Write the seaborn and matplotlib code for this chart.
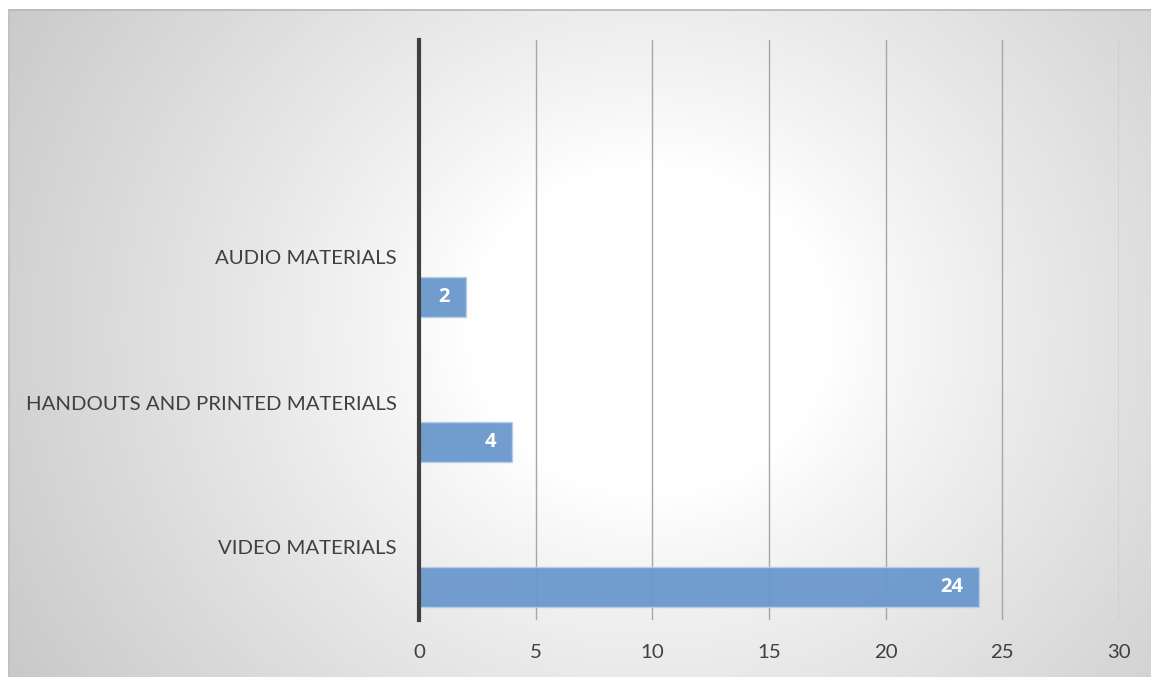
import numpy as np
import pandas as pd
import seaborn as sns
import matplotlib.pyplot as plt
from matplotlib.transforms import Affine2D, ScaledTranslation

# data
categories = ["AUDIO MATERIALS", "HANDOUTS AND PRINTED MATERIALS", "VIDEO MATERIALS"]
counts = [2, 4, 24]
x_ticks = [0, 5, 10, 15, 20, 25, 30]

df = pd.DataFrame({"category": categories, "count": counts})

sns.set_theme(style="white")
plt.rcParams["font.family"] = ["Lato", "DejaVu Sans"]

W, H = 1151, 677
fig = plt.figure(figsize=(W / 100, H / 100), dpi=100)
fig.patch.set_facecolor("white")

# radial gradient background (chart area)
bx0, by0 = 8, 9
bg = fig.add_axes([bx0 / W, 0, 1 - bx0 / W, 1 - by0 / H])
bw, bh = W - bx0, H - by0
yy, xx = np.mgrid[0:bh, 0:bw]
cx, cy = 650 - bx0, 330 - by0
r = np.hypot(xx - cx, (yy - cy) * 1.1)
t = np.clip((r - 180) / (800 - 180), 0, 1)
g = 1 - 0.23 * t ** 0.9
bg.imshow(np.dstack([g, g, g]), aspect="auto", extent=[0, bw, bh, 0], interpolation="bilinear")
bg.set_axis_off()
# thin border of chart area
bg.plot([0, bw], [0.5, 0.5], color="#b8b8b8", lw=1.2)
bg.plot([0.5, 0.5], [0, bh], color="#c0c0c0", lw=1.2)
bg.set_xlim(0, bw)
bg.set_ylim(bh, 0)

left, right, top, bottom = 419 / W, 1119 / W, 1 - 40 / H, 1 - 620 / H
ax = fig.add_axes([left, bottom, right - left, top - bottom])
ax.patch.set_alpha(0)

sns.barplot(data=df, x="count", y="category", orient="h", width=0.27,
            color="#6a98cc", alpha=0.95, saturation=1, edgecolor="#b8cfe8",
            linewidth=1.0, ax=ax)

# bars sit in lower part of each category band
shift = Affine2D().translate(0, 0.272) + ax.transData
for p in ax.patches:
    p.set_transform(shift)

lab_tr = shift + ScaledTranslation(-16 / 100, 0, fig.dpi_scale_trans)
for p, v in zip(ax.patches, counts):
    ax.text(p.get_x() + p.get_width(), p.get_y() + p.get_height() / 2, str(v),
            transform=lab_tr, ha="right", va="center", color="white",
            fontsize=14.5, fontweight="bold", family=["Open Sans", "DejaVu Sans"])

ax.set_xlim(0, 30)
ax.set_ylim(2.5, -1.5)
ax.set_xticks(x_ticks)
ax.set_xticklabels([str(v) for v in x_ticks])
ax.set_yticks(range(len(categories)))
ax.set_yticklabels(categories)
ax.tick_params(axis="both", length=0, labelsize=14.7, labelcolor="#404040")
ax.tick_params(axis="x", pad=17)
ax.tick_params(axis="y", pad=16)
ax.set_xlabel("")
ax.set_ylabel("")

ax.grid(axis="x", color="#a6a6a6", lw=1.0)
ax.grid(axis="y", visible=False)
ax.set_axisbelow(True)
for s in ["top", "right", "bottom"]:
    ax.spines[s].set_visible(False)
ax.spines["left"].set_color("#404040")
ax.spines["left"].set_linewidth(3)
ax.spines["left"].set_zorder(5)

fig.savefig("out.png", dpi=100)
